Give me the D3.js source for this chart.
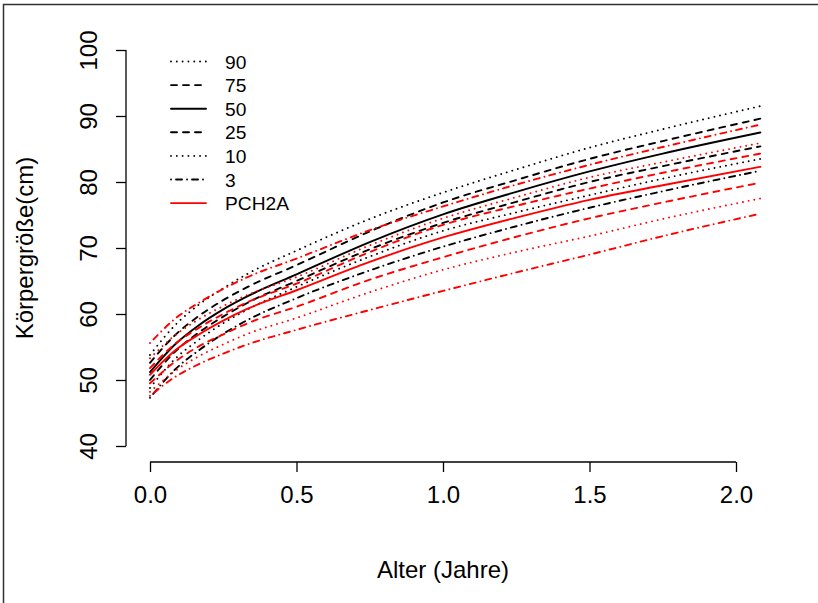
<!DOCTYPE html>
<html>
<head>
<meta charset="utf-8">
<script src="https://cdn.jsdelivr.net/npm/d3@7"></script>
<style>
  body { margin: 0; background: #fff; }
  svg { display: block; font-family: "Liberation Sans", Arial, sans-serif; }
</style>
</head>
<body>
<svg id="chart" width="818" height="603"></svg>
<script>
// ---- data ----
const ageMonths = [0, 1, 2, 3, 4, 6, 9, 12, 15, 18, 21, 25];
// reference percentiles (black)
const ref90 = [53.8, 58.2, 61.4, 63.9, 66.1, 69.6, 74.4, 78.4, 81.9, 85.2, 88.0, 91.5];
const ref75 = [52.6, 56.7, 59.7, 62.1, 64.1, 67.4, 72.5, 76.9, 80.3, 83.5, 86.2, 89.6];
const ref50 = [51.2, 55.3, 58.3, 60.7, 62.7, 66.0, 70.9, 75.1, 78.5, 81.6, 84.3, 87.5];
const ref25 = [50.0, 54.2, 57.2, 59.6, 61.7, 65.0, 69.8, 73.8, 77.0, 80.0, 82.4, 85.4];
const ref10 = [48.8, 53.1, 56.1, 58.6, 60.7, 64.1, 68.7, 72.6, 75.4, 78.0, 80.5, 83.5];
const ref3  = [47.3, 51.5, 54.5, 57.0, 59.1, 62.4, 66.6, 70.2, 73.3, 76.1, 78.6, 81.7];
// PCH2A percentiles (red)
const pch97 = [55.6, 59.2, 61.7, 63.8, 65.6, 68.4, 72.7, 76.3, 79.6, 82.6, 85.3, 88.7];
const pch90 = [53.3, 56.7, 59.2, 61.2, 62.9, 65.6, 70.4, 74.5, 77.7, 80.7, 83.0, 85.9];
const pch75 = [51.8, 55.4, 57.9, 60.0, 61.8, 64.6, 69.4, 73.5, 76.4, 79.0, 81.4, 84.3];
const pch50 = [50.8, 54.4, 56.9, 59.0, 60.8, 63.6, 67.9, 71.6, 74.6, 77.3, 79.5, 82.3];
const pch25 = [49.5, 52.7, 55.1, 56.9, 58.6, 61.1, 65.2, 68.6, 71.7, 74.5, 76.9, 79.9];
const pch10 = [48.2, 51.3, 53.6, 55.4, 57.0, 59.4, 63.3, 66.7, 69.4, 71.8, 74.4, 77.5];
const pch3  = [47.6, 50.4, 52.4, 54.0, 55.4, 57.6, 60.6, 63.5, 66.3, 69.0, 71.8, 75.2];

const xTicks = [0.0, 0.5, 1.0, 1.5, 2.0];
const yTicks = [40, 50, 60, 70, 80, 90, 100];
const legendLabels = ["90", "75", "50", "25", "10", "3", "PCH2A"];
const legendTypes  = ["dotted", "dashed", "solid", "dashed", "dotted", "dotdash", "solid"];
const legendColors = ["black", "black", "black", "black", "black", "black", "red"];

// ---- styles ----
const dashes = { solid: null, dashed: "6,6", dotted: "0.01,5.8", dotdash: "0.01,5,6,5" };
const lw = 1.9;

const series = [
  { v: ref90, type: "dotted", color: "black" },
  { v: ref75, type: "dashed", color: "black" },
  { v: ref50, type: "solid", color: "black" },
  { v: ref25, type: "dashed", color: "black" },
  { v: ref10, type: "dotted", color: "black" },
  { v: ref3,  type: "dotdash", color: "black" },
  { v: pch97, type: "dotdash", color: "red" },
  { v: pch90, type: "dotted", color: "red" },
  { v: pch75, type: "dashed", color: "red" },
  { v: pch50, type: "solid", color: "red" },
  { v: pch25, type: "dashed", color: "red" },
  { v: pch10, type: "dotted", color: "red" },
  { v: pch3,  type: "dotdash", color: "red" }
];

const svg = d3.select("#chart");

// figure border
svg.append("rect").attr("x", 3.5).attr("y", 4.5).attr("width", 900).attr("height", 800)
  .attr("fill", "none").attr("stroke", "#333").attr("stroke-width", 1.5);

const x = d3.scaleLinear().domain([0, 2]).range([150, 736]);
const y = d3.scaleLinear().domain([40, 100]).range([446, 50]);

const line = d3.line()
  .x((d, i) => x(ageMonths[i] / 12))
  .y(d => y(d))
  .curve(d3.curveMonotoneX);

svg.append("g").selectAll("path").data(series).join("path")
  .attr("d", s => line(s.v))
  .attr("fill", "none")
  .attr("stroke", s => s.color)
  .attr("stroke-width", lw)
  .attr("stroke-linecap", "round")
  .attr("stroke-dasharray", s => dashes[s.type]);

// axes
const fs = 24;
const xAxis = d3.axisBottom(x).tickValues(xTicks).tickFormat(d3.format(".1f")).tickSize(10).tickPadding(10);
const gx = svg.append("g").attr("transform", "translate(0,462)").call(xAxis);
const yAxis = d3.axisLeft(y).tickValues(yTicks).tickSize(10);
const gy = svg.append("g").attr("transform", "translate(126,0)").call(yAxis);
[gx, gy].forEach(g => {
  g.selectAll("path.domain").attr("stroke", "black").attr("stroke-width", 1.3);
  g.selectAll(".tick line").attr("stroke", "black").attr("stroke-width", 1.3);
  g.selectAll("text").attr("font-size", fs).attr("fill", "black")
    .attr("font-family", "Liberation Sans, Arial, sans-serif");
});
gx.select("path.domain").attr("d", `M${x(0)},0H${x(2)}`);
gy.select("path.domain").attr("d", `M0,${y(40)}V${y(100)}`);
gx.selectAll(".tick text").attr("y", 0).attr("dy", null).attr("transform", "translate(0,41)");
gy.selectAll(".tick text")
  .attr("x", null).attr("dy", null)
  .attr("text-anchor", "middle")
  .attr("transform", "translate(-29,0) rotate(-90)");

// axis titles
svg.append("text").attr("x", 443).attr("y", 578).attr("text-anchor", "middle")
  .attr("font-size", fs).text("Alter (Jahre)");
svg.append("text").attr("transform", "translate(33,248) rotate(-90)").attr("text-anchor", "middle")
  .attr("font-size", fs).text("Körpergröße(cm)");

// legend
const lg = svg.append("g");
legendLabels.forEach((lab, i) => {
  const yy = 61.5 + i * 23.6;
  lg.append("line").attr("x1", 171).attr("x2", 206).attr("y1", yy).attr("y2", yy)
    .attr("stroke", legendColors[i]).attr("stroke-width", lw)
    .attr("stroke-linecap", "round")
    .attr("stroke-dasharray", dashes[legendTypes[i]]);
  lg.append("text").attr("x", 225).attr("y", yy + 7).attr("font-size", 19.2).text(lab);
});
</script>
</body>
</html>
